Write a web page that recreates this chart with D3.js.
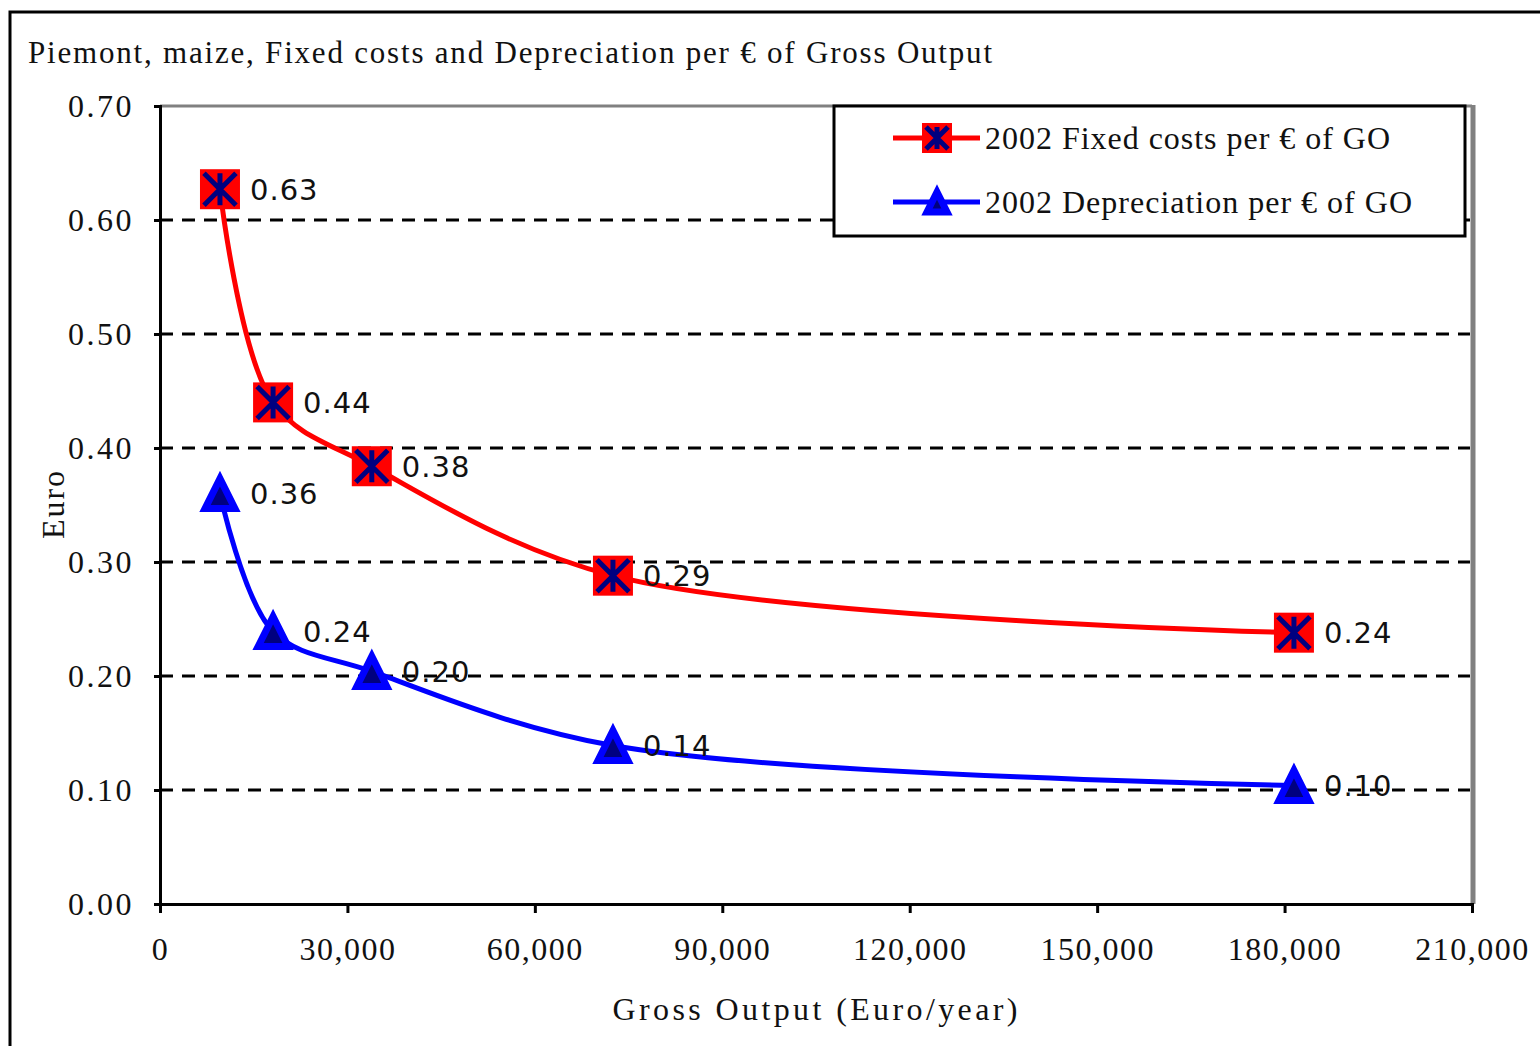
<!DOCTYPE html>
<html>
<head>
<meta charset="utf-8">
<script src="https://cdn.jsdelivr.net/npm/d3@7"></script>
<style>
  html, body { margin: 0; padding: 0; background: #fff; overflow: hidden; }
  svg { display: block; }
</style>
</head>
<body>
<div id="chart"></div>
<script>
// Gross output per farm class (Euro/year)
const grossOutput = [9600, 18100, 33900, 72500, 181500];
// 2002 Fixed costs per € of GO
const fixedCosts = [0.627, 0.44, 0.384, 0.288, 0.238];
// 2002 Depreciation per € of GO
const depreciation = [0.36, 0.239, 0.204, 0.139, 0.104];

const xTicks = [0, 30000, 60000, 90000, 120000, 150000, 180000, 210000];
const yTicks = [0, 0.1, 0.2, 0.3, 0.4, 0.5, 0.6, 0.7];
const seriesNames = ['2002 Fixed costs per € of GO', '2002 Depreciation per € of GO'];

const width = 1540, height = 1046;
const plotLeft = 160, plotRight = 1472, plotTop = 106, plotBottom = 904;

const svg = d3.select('#chart').append('svg')
  .attr('width', width)
  .attr('height', height);

const serif = '"Liberation Serif", "DejaVu Serif", serif';
const sans = '"DejaVu Sans", Verdana, sans-serif';

// outer frame (runs off the picture on right and bottom)
svg.append('rect')
  .attr('x', 10).attr('y', 12)
  .attr('width', 1600).attr('height', 1100)
  .attr('fill', 'none')
  .attr('stroke', '#000')
  .attr('stroke-width', 3);

// title
svg.append('text')
  .attr('x', 28).attr('y', 63)
  .attr('font-family', serif)
  .attr('font-size', 31)
  .attr('textLength', 964)
  .attr('lengthAdjust', 'spacing')
  .attr('fill', '#111')
  .text('Piemont, maize, Fixed costs and Depreciation per € of Gross Output');

const x = d3.scaleLinear().domain([0, 210000]).range([plotLeft, plotRight]);
const y = d3.scaleLinear().domain([0, 0.7]).range([plotBottom, plotTop]);

// dashed gridlines
svg.append('g')
  .selectAll('line')
  .data(yTicks.filter(d => d > 0 && d < 0.7))
  .enter().append('line')
  .attr('x1', plotLeft).attr('x2', plotRight - 2)
  .attr('y1', d => y(d)).attr('y2', d => y(d))
  .attr('stroke', '#000')
  .attr('stroke-width', 3)
  .attr('stroke-dasharray', '13,9');

// gray plot border top/right
svg.append('line')
  .attr('x1', plotLeft).attr('x2', plotRight)
  .attr('y1', plotTop).attr('y2', plotTop)
  .attr('stroke', '#808080').attr('stroke-width', 3);
svg.append('line')
  .attr('x1', plotRight + 1).attr('x2', plotRight + 1)
  .attr('y1', plotTop - 1).attr('y2', plotBottom)
  .attr('stroke', '#808080').attr('stroke-width', 5);

// y axis
const yAxis = svg.append('g')
  .attr('transform', `translate(${plotLeft},0)`)
  .call(d3.axisLeft(y).tickValues(yTicks).tickFormat(d3.format('.2f')).tickSize(6).tickPadding(20));
yAxis.select('.domain').attr('stroke', '#000').attr('stroke-width', 3);
yAxis.selectAll('.tick line').attr('stroke', '#000').attr('stroke-width', 3);
yAxis.selectAll('.tick text')
  .attr('font-family', serif)
  .attr('font-size', 32)
  .attr('letter-spacing', 2.5)
  .attr('fill', '#111');

// x axis
const xAxis = svg.append('g')
  .attr('transform', `translate(0,${plotBottom})`)
  .call(d3.axisBottom(x).tickValues(xTicks).tickFormat(d3.format(',')).tickSize(9).tickPadding(24));
xAxis.select('.domain').attr('stroke', '#000').attr('stroke-width', 3);
xAxis.selectAll('.tick line').attr('stroke', '#000').attr('stroke-width', 3);
xAxis.selectAll('.tick text')
  .attr('font-family', serif)
  .attr('font-size', 32)
  .attr('letter-spacing', 1.5)
  .attr('fill', '#111');

// axis titles
svg.append('text')
  .attr('x', 815).attr('y', 1020)
  .attr('text-anchor', 'middle')
  .attr('font-family', serif)
  .attr('font-size', 32)
  .attr('textLength', 405)
  .attr('lengthAdjust', 'spacing')
  .attr('fill', '#111')
  .text('Gross Output  (Euro/year)');

svg.append('text')
  .attr('transform', 'translate(64,505) rotate(-90)')
  .attr('text-anchor', 'middle')
  .attr('font-family', serif)
  .attr('font-size', 32)
  .attr('textLength', 68)
  .attr('lengthAdjust', 'spacing')
  .attr('fill', '#111')
  .text('Euro');

const line = d3.line()
  .x(d => x(d[0]))
  .y(d => y(d[1]))
  .curve(d3.curveCatmullRom.alpha(0.5));

const fixedPts = grossOutput.map((g, i) => [g, fixedCosts[i]]);
const deprPts = grossOutput.map((g, i) => [g, depreciation[i]]);

svg.append('path')
  .datum(fixedPts)
  .attr('d', line)
  .attr('fill', 'none')
  .attr('stroke', '#ff0000')
  .attr('stroke-width', 5);

svg.append('path')
  .datum(deprPts)
  .attr('d', line)
  .attr('fill', 'none')
  .attr('stroke', '#0000ff')
  .attr('stroke-width', 5);

// marker drawing helpers
function squareStar(g, s) {
  const h = s / 2, a = h - 4;
  g.append('rect')
    .attr('x', -h).attr('y', -h)
    .attr('width', s).attr('height', s)
    .attr('fill', '#ff0000');
  const star = 'M0,' + (-a) + 'V' + a +
    'M' + (-a) + ',' + (-a) + 'L' + a + ',' + a +
    'M' + a + ',' + (-a) + 'L' + (-a) + ',' + a;
  g.append('path')
    .attr('d', star)
    .attr('stroke', '#000080')
    .attr('stroke-width', 5)
    .attr('fill', 'none');
}

function triangle(g, s) {
  const h = s / 2;
  g.append('path')
    .attr('d', `M0,${-h}L${h},${h}L${-h},${h}Z`)
    .attr('fill', '#000080')
    .attr('stroke', '#0000ff')
    .attr('stroke-width', 7)
    .attr('stroke-linejoin', 'miter');
}

const fmt = d3.format('.2f');

svg.append('g').selectAll('g')
  .data(fixedPts)
  .enter().append('g')
  .attr('transform', d => `translate(${x(d[0])},${y(d[1])})`)
  .each(function() { squareStar(d3.select(this), 40); });

svg.append('g').selectAll('g')
  .data(deprPts)
  .enter().append('g')
  .attr('transform', d => `translate(${x(d[0])},${y(d[1])})`)
  .each(function() { triangle(d3.select(this), 30); });

// data labels
[fixedPts, deprPts].forEach(pts => {
  svg.append('g').selectAll('text')
    .data(pts)
    .enter().append('text')
    .attr('x', d => x(d[0]) + 30)
    .attr('y', d => y(d[1]))
    .attr('dy', '0.36em')
    .attr('font-family', sans)
    .attr('font-size', 29)
    .attr('letter-spacing', 1)
    .attr('fill', '#111')
    .text(d => fmt(d[1]));
});

// legend
const legend = svg.append('g');
legend.append('rect')
  .attr('x', 834).attr('y', 106)
  .attr('width', 631).attr('height', 130)
  .attr('fill', '#fff')
  .attr('stroke', '#000')
  .attr('stroke-width', 3);

const legendRows = [
  { name: seriesNames[0], color: '#ff0000', cy: 138, len: 405, marker: g => squareStar(g, 30) },
  { name: seriesNames[1], color: '#0000ff', cy: 202, len: 427, marker: g => triangle(g, 20) }
];
legendRows.forEach(r => {
  legend.append('line')
    .attr('x1', 893).attr('x2', 980)
    .attr('y1', r.cy).attr('y2', r.cy)
    .attr('stroke', r.color)
    .attr('stroke-width', 5);
  const m = legend.append('g').attr('transform', `translate(937,${r.cy})`);
  r.marker(m);
  legend.append('text')
    .attr('x', 985).attr('y', r.cy + 11)
    .attr('font-family', serif)
    .attr('font-size', 32)
    .attr('textLength', r.len)
    .attr('lengthAdjust', 'spacing')
    .attr('fill', '#111')
    .text(r.name);
});
</script>
</body>
</html>
